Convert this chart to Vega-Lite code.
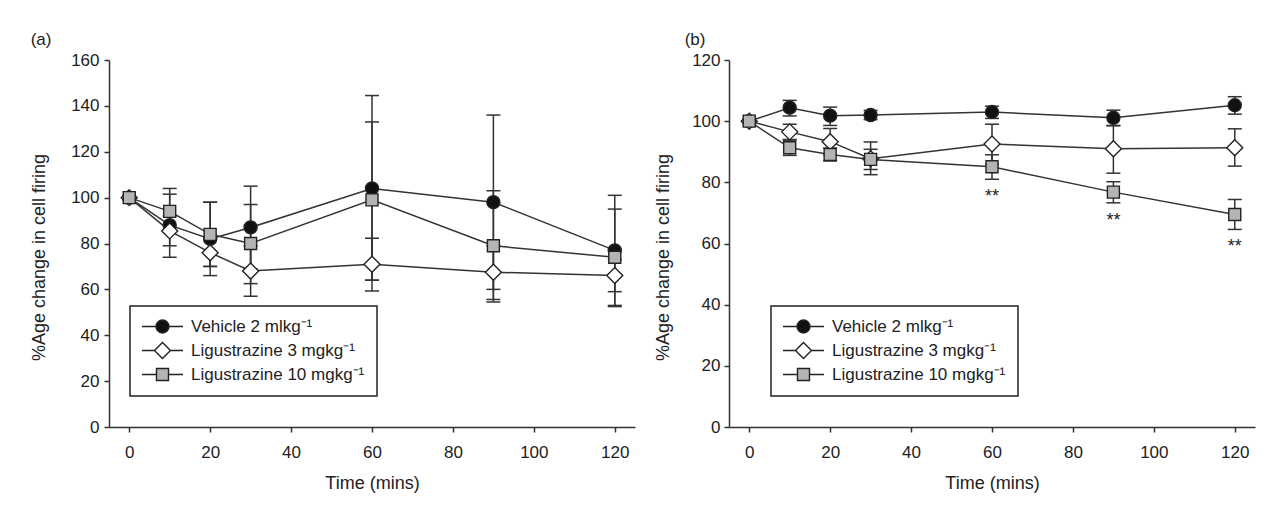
{
  "$schema": "https://vega.github.io/schema/vega-lite/v6.json",
  "autosize": {"type": "none"},
  "padding": {"left": 109, "top": 60, "right": 1169, "bottom": 453},
  "background": "white",
  "bounds": "flush",
  "spacing": 94,
  "config": {
    "font": "Liberation Sans",
    "view": {"stroke": null},
    "axis": {
      "grid": false,
      "domainColor": "#333333",
      "domainWidth": 1.5,
      "tickColor": "#333333",
      "tickWidth": 1.5,
      "tickSize": 5,
      "labelFont": "Liberation Sans",
      "labelFontSize": 17,
      "labelColor": "#222222",
      "titleFont": "Liberation Sans",
      "titleFontSize": 18,
      "titleFontWeight": "normal",
      "titleColor": "#222222"
    },
    "legend": {"strokeWidth": 1.5},
    "title": {"font": "Liberation Sans", "fontSize": 17, "fontWeight": "normal", "color": "#222222"}
  },
  "resolve": {
    "scale": {"x": "independent", "y": "independent", "fill": "independent"},
    "legend": {"fill": "independent"}
  },
  "datasets": {
    "a": [
      {"series": "Vehicle 2 mlkg⁻¹", "time": 0, "mean": 100, "lo": null, "hi": null},
      {"series": "Vehicle 2 mlkg⁻¹", "time": 10, "mean": 88, "lo": 74, "hi": 104},
      {"series": "Vehicle 2 mlkg⁻¹", "time": 20, "mean": 82, "lo": 66, "hi": 98},
      {"series": "Vehicle 2 mlkg⁻¹", "time": 30, "mean": 87, "lo": 69, "hi": 105},
      {"series": "Vehicle 2 mlkg⁻¹", "time": 60, "mean": 104, "lo": 64, "hi": 144.5},
      {"series": "Vehicle 2 mlkg⁻¹", "time": 90, "mean": 98, "lo": 60, "hi": 136},
      {"series": "Vehicle 2 mlkg⁻¹", "time": 120, "mean": 77, "lo": 53, "hi": 101},
      {"series": "Ligustrazine 3 mgkg⁻¹", "time": 0, "mean": 100, "lo": null, "hi": null},
      {"series": "Ligustrazine 3 mgkg⁻¹", "time": 10, "mean": 85.5, "lo": 79, "hi": 92},
      {"series": "Ligustrazine 3 mgkg⁻¹", "time": 20, "mean": 76, "lo": 70, "hi": 82},
      {"series": "Ligustrazine 3 mgkg⁻¹", "time": 30, "mean": 68, "lo": 57, "hi": 79},
      {"series": "Ligustrazine 3 mgkg⁻¹", "time": 60, "mean": 71, "lo": 59.3, "hi": 82.3},
      {"series": "Ligustrazine 3 mgkg⁻¹", "time": 90, "mean": 67.5, "lo": 55.6, "hi": 79},
      {"series": "Ligustrazine 3 mgkg⁻¹", "time": 120, "mean": 66, "lo": 59, "hi": 73},
      {"series": "Ligustrazine 10 mgkg⁻¹", "time": 0, "mean": 100, "lo": null, "hi": null},
      {"series": "Ligustrazine 10 mgkg⁻¹", "time": 10, "mean": 94, "lo": 86, "hi": 101.5},
      {"series": "Ligustrazine 10 mgkg⁻¹", "time": 20, "mean": 84, "lo": 70, "hi": 98},
      {"series": "Ligustrazine 10 mgkg⁻¹", "time": 30, "mean": 80, "lo": 62.5, "hi": 97},
      {"series": "Ligustrazine 10 mgkg⁻¹", "time": 60, "mean": 99, "lo": 64, "hi": 133},
      {"series": "Ligustrazine 10 mgkg⁻¹", "time": 90, "mean": 79, "lo": 54.5, "hi": 103},
      {"series": "Ligustrazine 10 mgkg⁻¹", "time": 120, "mean": 74, "lo": 52.5, "hi": 95}
    ],
    "b": [
      {"series": "Vehicle 2 mlkg⁻¹", "time": 0, "mean": 100, "lo": null, "hi": null, "sig": null},
      {"series": "Vehicle 2 mlkg⁻¹", "time": 10, "mean": 104.4, "lo": 101.7, "hi": 106.8, "sig": null},
      {"series": "Vehicle 2 mlkg⁻¹", "time": 20, "mean": 101.8, "lo": 98.6, "hi": 104.6, "sig": null},
      {"series": "Vehicle 2 mlkg⁻¹", "time": 30, "mean": 102, "lo": 100.5, "hi": 103.5, "sig": null},
      {"series": "Vehicle 2 mlkg⁻¹", "time": 60, "mean": 103, "lo": 100.9, "hi": 104.9, "sig": null},
      {"series": "Vehicle 2 mlkg⁻¹", "time": 90, "mean": 101.1, "lo": 98.6, "hi": 103.6, "sig": null},
      {"series": "Vehicle 2 mlkg⁻¹", "time": 120, "mean": 105.2, "lo": 102.3, "hi": 108, "sig": null},
      {"series": "Ligustrazine 3 mgkg⁻¹", "time": 0, "mean": 100, "lo": null, "hi": null, "sig": null},
      {"series": "Ligustrazine 3 mgkg⁻¹", "time": 10, "mean": 96.5, "lo": 94, "hi": 99, "sig": null},
      {"series": "Ligustrazine 3 mgkg⁻¹", "time": 20, "mean": 93.3, "lo": 89, "hi": 97.6, "sig": null},
      {"series": "Ligustrazine 3 mgkg⁻¹", "time": 30, "mean": 87.7, "lo": 82.5, "hi": 93.2, "sig": null},
      {"series": "Ligustrazine 3 mgkg⁻¹", "time": 60, "mean": 92.5, "lo": 86, "hi": 99, "sig": null},
      {"series": "Ligustrazine 3 mgkg⁻¹", "time": 90, "mean": 91, "lo": 83, "hi": 98.5, "sig": null},
      {"series": "Ligustrazine 3 mgkg⁻¹", "time": 120, "mean": 91.3, "lo": 85.3, "hi": 97.5, "sig": null},
      {"series": "Ligustrazine 10 mgkg⁻¹", "time": 0, "mean": 100, "lo": null, "hi": null, "sig": null},
      {"series": "Ligustrazine 10 mgkg⁻¹", "time": 10, "mean": 91.3, "lo": 88.8, "hi": 93.8, "sig": null},
      {"series": "Ligustrazine 10 mgkg⁻¹", "time": 20, "mean": 89.1, "lo": 87, "hi": 91.2, "sig": null},
      {"series": "Ligustrazine 10 mgkg⁻¹", "time": 30, "mean": 87.5, "lo": 84.2, "hi": 90.8, "sig": null},
      {"series": "Ligustrazine 10 mgkg⁻¹", "time": 60, "mean": 85.1, "lo": 81, "hi": 89, "sig": "**"},
      {"series": "Ligustrazine 10 mgkg⁻¹", "time": 90, "mean": 76.8, "lo": 73.3, "hi": 80.2, "sig": "**"},
      {"series": "Ligustrazine 10 mgkg⁻¹", "time": 120, "mean": 69.5, "lo": 64.6, "hi": 74.4, "sig": "**"}
    ]
  },
  "hconcat": [
    {
      "width": 526,
      "height": 367,
      "title": {"text": "(a)", "anchor": "start", "frame": "bounds", "offset": 2},
      "data": {"name": "a"},
      "encoding": {
        "x": {"field": "time", "type": "quantitative", "scale": {"domain": [-5, 125], "nice": false, "zero": false},
              "axis": {"values": [0, 20, 40, 60, 80, 100, 120], "title": "Time (mins)", "labelPadding": 12, "titlePadding": 14}}
      },
      "layer": [
        {
          "mark": {"type": "rule", "color": "#333333", "strokeWidth": 1.5},
          "encoding": {
            "y": {"field": "lo", "type": "quantitative", "scale": {"domain": [0, 160], "nice": false},
                  "axis": {"values": [0, 20, 40, 60, 80, 100, 120, 140, 160], "title": "%Age change in cell firing", "labelPadding": 5, "titlePadding": 22, "titleY": 197}},
            "y2": {"field": "hi"}
          }
        },
        {"mark": {"type": "tick", "orient": "horizontal", "size": 14, "thickness": 1.5, "color": "#333333", "opacity": 1},
         "encoding": {"y": {"field": "lo", "type": "quantitative"}}},
        {"mark": {"type": "tick", "orient": "horizontal", "size": 14, "thickness": 1.5, "color": "#333333", "opacity": 1},
         "encoding": {"y": {"field": "hi", "type": "quantitative"}}},
        {"mark": {"type": "line", "color": "#333333", "strokeWidth": 1.5},
         "encoding": {"y": {"field": "mean", "type": "quantitative"}, "detail": {"field": "series"}}},
        {
          "mark": {"type": "point", "filled": true, "stroke": "#222222", "strokeWidth": 1.4, "opacity": 1},
          "encoding": {
            "y": {"field": "mean", "type": "quantitative"},
            "shape": {"condition": [{"test": "datum.series == 'Vehicle 2 mlkg⁻¹'", "value": "circle"}, {"test": "datum.series == 'Ligustrazine 3 mgkg⁻¹'", "value": "diamond"}], "value": "square"},
            "size": {"condition": [{"test": "datum.series == 'Vehicle 2 mlkg⁻¹'", "value": 169}, {"test": "datum.series == 'Ligustrazine 3 mgkg⁻¹'", "value": 256}], "value": 144},
            "fill": {"condition": [{"test": "datum.series == 'Vehicle 2 mlkg⁻¹'", "value": "#111111"}, {"test": "datum.series == 'Ligustrazine 3 mgkg⁻¹'", "value": "#ffffff"}], "value": "#b4b4b4"}
          }
        },
        {
          "transform": [{"filter": "false"}],
          "mark": {"type": "point", "filled": true, "stroke": "#222222", "strokeWidth": 1.4, "opacity": 1},
          "encoding": {
            "y": {"field": "mean", "type": "quantitative"},
            "fill": {"field": "series", "scale": {"domain": ["Vehicle 2 mlkg⁻¹", "Ligustrazine 3 mgkg⁻¹", "Ligustrazine 10 mgkg⁻¹"], "range": ["#111111", "#ffffff", "#b4b4b4"]},
                     "legend": {"title": null, "orient": "none", "legendX": 21, "legendY": 246, "strokeColor": "#222222", "padding": 12, "rowPadding": 3,
                                "labelFont": "Liberation Sans", "labelFontSize": 17, "labelColor": "#222222", "labelOffset": 32, "labelLimit": 0, "symbolSize": 196,
                                "symbolStrokeColor": "#222222", "symbolStrokeWidth": 1.4, "symbolOpacity": 1,
                                "symbolType": {"expr": "datum.index == 0 ? 'M-1.214,0L0.785,0M2.643,0L4.643,0M2.643,0A0.929,0.929,0,1,1,0.785,0A0.929,0.929,0,1,1,2.643,0Z' : datum.index == 1 ? 'M-1.214,0L0.571,0M2.857,0L4.643,0M0.571,0L1.714,-1.143L2.857,0L1.714,1.143Z' : 'M-1.214,0L0.857,0M2.571,0L4.643,0M0.857,-0.857L2.571,-0.857L2.571,0.857L0.857,0.857Z'"}}}
          }
        }
      ]
    },
    {
      "width": 526,
      "height": 367,
      "title": {"text": "(b)", "anchor": "start", "frame": "bounds", "offset": 2, "dx": 30},
      "data": {"name": "b"},
      "encoding": {
        "x": {"field": "time", "type": "quantitative", "scale": {"domain": [-5, 125], "nice": false, "zero": false},
              "axis": {"values": [0, 20, 40, 60, 80, 100, 120], "title": "Time (mins)", "labelPadding": 12, "titlePadding": 14}}
      },
      "layer": [
        {
          "mark": {"type": "rule", "color": "#333333", "strokeWidth": 1.5},
          "encoding": {
            "y": {"field": "lo", "type": "quantitative", "scale": {"domain": [0, 120], "nice": false},
                  "axis": {"values": [0, 20, 40, 60, 80, 100, 120], "title": "%Age change in cell firing", "labelPadding": 4, "titlePadding": 19, "titleY": 197}},
            "y2": {"field": "hi"}
          }
        },
        {"mark": {"type": "tick", "orient": "horizontal", "size": 14, "thickness": 1.5, "color": "#333333", "opacity": 1},
         "encoding": {"y": {"field": "lo", "type": "quantitative"}}},
        {"mark": {"type": "tick", "orient": "horizontal", "size": 14, "thickness": 1.5, "color": "#333333", "opacity": 1},
         "encoding": {"y": {"field": "hi", "type": "quantitative"}}},
        {"mark": {"type": "line", "color": "#333333", "strokeWidth": 1.5},
         "encoding": {"y": {"field": "mean", "type": "quantitative"}, "detail": {"field": "series"}}},
        {
          "mark": {"type": "point", "filled": true, "stroke": "#222222", "strokeWidth": 1.4, "opacity": 1},
          "encoding": {
            "y": {"field": "mean", "type": "quantitative"},
            "shape": {"condition": [{"test": "datum.series == 'Vehicle 2 mlkg⁻¹'", "value": "circle"}, {"test": "datum.series == 'Ligustrazine 3 mgkg⁻¹'", "value": "diamond"}], "value": "square"},
            "size": {"condition": [{"test": "datum.series == 'Vehicle 2 mlkg⁻¹'", "value": 169}, {"test": "datum.series == 'Ligustrazine 3 mgkg⁻¹'", "value": 256}], "value": 144},
            "fill": {"condition": [{"test": "datum.series == 'Vehicle 2 mlkg⁻¹'", "value": "#111111"}, {"test": "datum.series == 'Ligustrazine 3 mgkg⁻¹'", "value": "#ffffff"}], "value": "#b4b4b4"}
          }
        },
        {
          "transform": [{"filter": "false"}],
          "mark": {"type": "point", "filled": true, "stroke": "#222222", "strokeWidth": 1.4, "opacity": 1},
          "encoding": {
            "y": {"field": "mean", "type": "quantitative"},
            "fill": {"field": "series", "scale": {"domain": ["Vehicle 2 mlkg⁻¹", "Ligustrazine 3 mgkg⁻¹", "Ligustrazine 10 mgkg⁻¹"], "range": ["#111111", "#ffffff", "#b4b4b4"]},
                     "legend": {"title": null, "orient": "none", "legendX": 42, "legendY": 246, "strokeColor": "#222222", "padding": 12, "rowPadding": 3,
                                "labelFont": "Liberation Sans", "labelFontSize": 17, "labelColor": "#222222", "labelOffset": 32, "labelLimit": 0, "symbolSize": 196,
                                "symbolStrokeColor": "#222222", "symbolStrokeWidth": 1.4, "symbolOpacity": 1,
                                "symbolType": {"expr": "datum.index == 0 ? 'M-1.214,0L0.785,0M2.643,0L4.643,0M2.643,0A0.929,0.929,0,1,1,0.785,0A0.929,0.929,0,1,1,2.643,0Z' : datum.index == 1 ? 'M-1.214,0L0.571,0M2.857,0L4.643,0M0.571,0L1.714,-1.143L2.857,0L1.714,1.143Z' : 'M-1.214,0L0.857,0M2.571,0L4.643,0M0.857,-0.857L2.571,-0.857L2.571,0.857L0.857,0.857Z'"}}}
          }
        },
        {
          "transform": [{"filter": "datum.sig != null"}],
          "mark": {"type": "text", "fontSize": 18, "baseline": "alphabetic", "dy": 23, "color": "#222222", "font": "Liberation Sans"},
          "encoding": {"y": {"field": "lo", "type": "quantitative"}, "text": {"field": "sig"}}
        }
      ]
    }
  ]
}
